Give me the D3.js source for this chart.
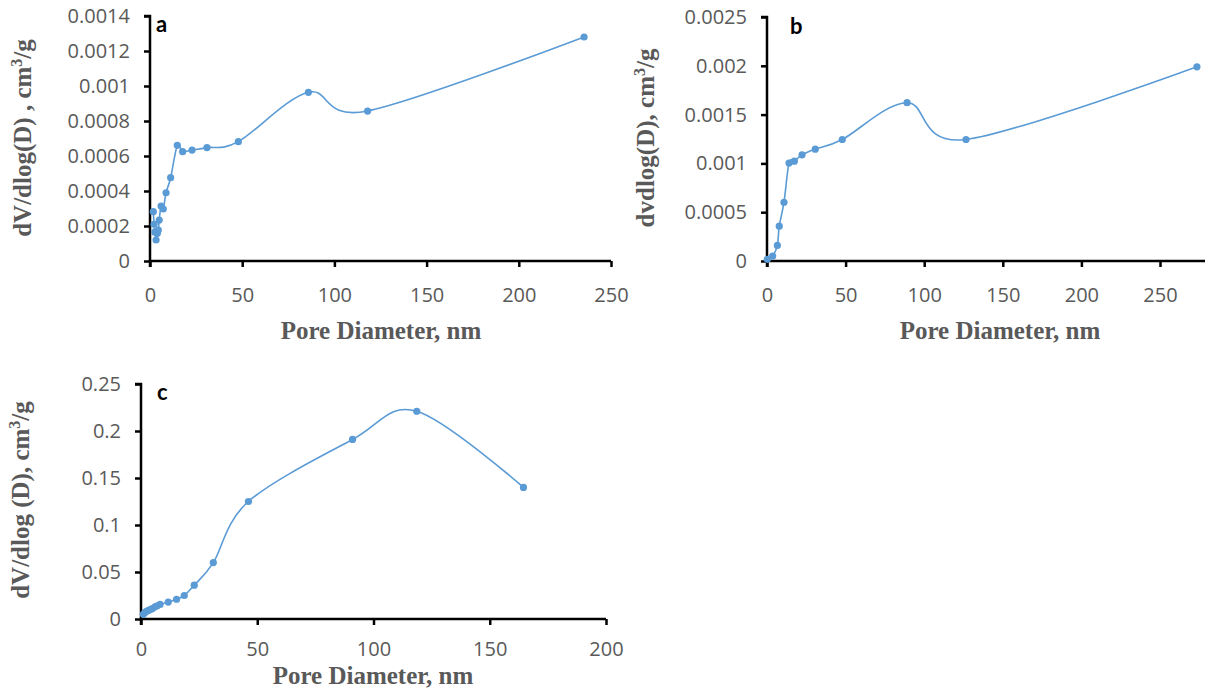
<!DOCTYPE html>
<html>
<head>
<meta charset="utf-8">
<script src="https://cdn.jsdelivr.net/npm/d3@7"></script>
<style>
  body { margin: 0; background: #fff; }
  svg { display: block; }
</style>
</head>
<body>
<div id="svgContainer"></div>
<script>
// panel a
const diamA = [235.4, 118, 85.9, 47.9, 30.9, 22.8, 17.7, 14.8, 11.2, 8.7, 7.2, 6.0, 5.0, 4.5, 4.0, 3.3, 2.6, 2.2, 1.8];
const volA  = [0.00128, 0.000857, 0.000964, 0.000682, 0.000648, 0.000634, 0.000625, 0.000661, 0.000476, 0.00039,
               0.000297, 0.000314, 0.000234, 0.000177, 0.000158, 0.00012, 0.000165, 0.00021, 0.000282];
// panel b
const diamB = [273.5, 126.6, 89.1, 47.9, 30.7, 22.3, 17.4, 14.0, 10.8, 7.8, 6.6, 3.6, 0.2];
const volB  = [0.00199, 0.001245, 0.001622, 0.001245, 0.001146, 0.001088, 0.001023, 0.001003, 0.000602, 0.000357,
               0.00016, 0.000051, 0.000017];
// panel c
const diamC = [164.5, 118.6, 91, 46.2, 31.1, 22.9, 18.6, 15.3, 11.7, 8.2, 7.0, 6.0, 4.8, 3.9, 3.2, 2.5, 1.7, 1.0];
const volC  = [0.140, 0.221, 0.191, 0.125, 0.060, 0.036, 0.025, 0.021, 0.018, 0.0155, 0.014, 0.013, 0.011, 0.010,
               0.009, 0.0085, 0.007, 0.005];

const xTicksA = [0, 50, 100, 150, 200, 250];
const yTicksA = [0, 0.0002, 0.0004, 0.0006, 0.0008, 0.001, 0.0012, 0.0014];
const xTicksB = [0, 50, 100, 150, 200, 250];
const yTicksB = [0, 0.0005, 0.001, 0.0015, 0.002, 0.0025];
const xTicksC = [0, 50, 100, 150, 200];
const yTicksC = [0, 0.05, 0.1, 0.15, 0.2, 0.25];

const W = 1205, H = 694;
const BLUE = "#5B9BD5";
const GREY = "#595959";

const svg = d3.select("#svgContainer").append("svg")
    .attr("width", W)
    .attr("height", H)
    .attr("viewBox", "0 0 " + W + " " + H);

function drawPanel(p) {
    const x = d3.scaleLinear().domain(p.xDomain).range(p.xRange);
    const y = d3.scaleLinear().domain(p.yDomain).range(p.yRange);
    const g = svg.append("g");
    const pts = p.diam.map((d, i) => [d, p.vol[i]]);

    // axes
    const yAxis = g.append("g")
        .attr("transform", "translate(" + p.xRange[0] + ",0)")
        .call(d3.axisLeft(y).tickValues(p.yTicks).tickSize(6).tickPadding(14)
            .tickFormat(d => d === 0 ? "0" : d3.format("~g")(d)));
    const xAxis = g.append("g")
        .attr("transform", "translate(0," + p.yRange[0] + ")")
        .call(d3.axisBottom(x).tickValues(p.xTicks).tickSize(6).tickPadding(p.xPad)
            .tickFormat(d3.format("d")));
    [yAxis, xAxis].forEach(ax => {
        ax.select(".domain").attr("stroke", "#000").attr("stroke-width", 2.5);
        ax.selectAll(".tick line").attr("stroke", "#000").attr("stroke-width", 2.5);
        ax.selectAll(".tick text")
            .attr("fill", GREY)
            .attr("font-family", "'Open Sans', Lato, sans-serif")
            .attr("font-size", 20);
    });
    yAxis.select(".domain").attr("d", "M-6," + p.yRange[1] + "H0V" + p.yRange[0]);
    // x axis may run past the window edge (panel b)
    xAxis.select(".domain").attr("d", "M" + p.xRange[0] + ",6V0H" + p.xEnd);

    // line + markers
    const line = d3.line()
        .x(d => x(d[0]))
        .y(d => y(d[1]))
        .curve(d3.curveCardinal.tension(0));
    g.append("path")
        .datum(pts)
        .attr("d", line)
        .attr("fill", "none")
        .attr("stroke", BLUE)
        .attr("stroke-width", 1.6);
    g.selectAll("circle")
        .data(pts)
        .enter().append("circle")
        .attr("cx", d => x(d[0]))
        .attr("cy", d => y(d[1]))
        .attr("r", 3.6)
        .attr("fill", BLUE);

    // titles
    g.append("text")
        .attr("x", p.xTitle[0])
        .attr("y", p.xTitle[1])
        .attr("text-anchor", "middle")
        .attr("font-family", "'Liberation Serif', 'Times New Roman', serif")
        .attr("font-weight", "bold")
        .attr("font-size", 25)
        .attr("fill", GREY)
        .text("Pore Diameter, nm");

    const yt = g.append("text")
        .attr("transform", "translate(" + p.yTitle[0] + "," + p.yTitle[1] + ") rotate(-90)")
        .attr("text-anchor", "middle")
        .attr("font-family", "'Liberation Serif', 'Times New Roman', serif")
        .attr("font-weight", "bold")
        .attr("font-size", 25)
        .attr("fill", GREY);
    yt.append("tspan").text(p.yLabel);
    yt.append("tspan").attr("dy", -9).attr("font-size", 16).text("3");
    yt.append("tspan").attr("dy", 9).text("/g");

    g.append("text")
        .attr("x", p.letter[0])
        .attr("y", p.letter[1])
        .attr("font-family", "Lato, 'Open Sans', sans-serif")
        .attr("font-weight", "bold")
        .attr("font-size", 22)
        .attr("fill", "#000")
        .text(p.letter[2]);
}

drawPanel({
    diam: diamA, vol: volA, xTicks: xTicksA, yTicks: yTicksA,
    xDomain: [0, 250], xRange: [150, 611], xEnd: 611, xPad: 21,
    yDomain: [0, 0.0014], yRange: [261, 16],
    xTitle: [381, 339], yTitle: [31, 138], yLabel: "dV/dlog(D) , cm",
    letter: [156, 32, "a"]
});

drawPanel({
    diam: diamB, vol: volB, xTicks: xTicksB, yTicks: yTicksB,
    xDomain: [0, 250], xRange: [767, 1160], xEnd: 1205, xPad: 21,
    yDomain: [0, 0.0025], yRange: [261, 17],
    xTitle: [1000, 339], yTitle: [654, 138], yLabel: "dvdlog(D), cm",
    letter: [790, 34, "b"]
});

drawPanel({
    diam: diamC, vol: volC, xTicks: xTicksC, yTicks: yTicksC,
    xDomain: [0, 200], xRange: [141, 606], xEnd: 606, xPad: 17,
    yDomain: [0, 0.25], yRange: [619, 384],
    xTitle: [373, 684], yTitle: [29, 500], yLabel: "dV/dlog (D), cm",
    letter: [157, 400, "c"]
});
</script>
</body>
</html>
